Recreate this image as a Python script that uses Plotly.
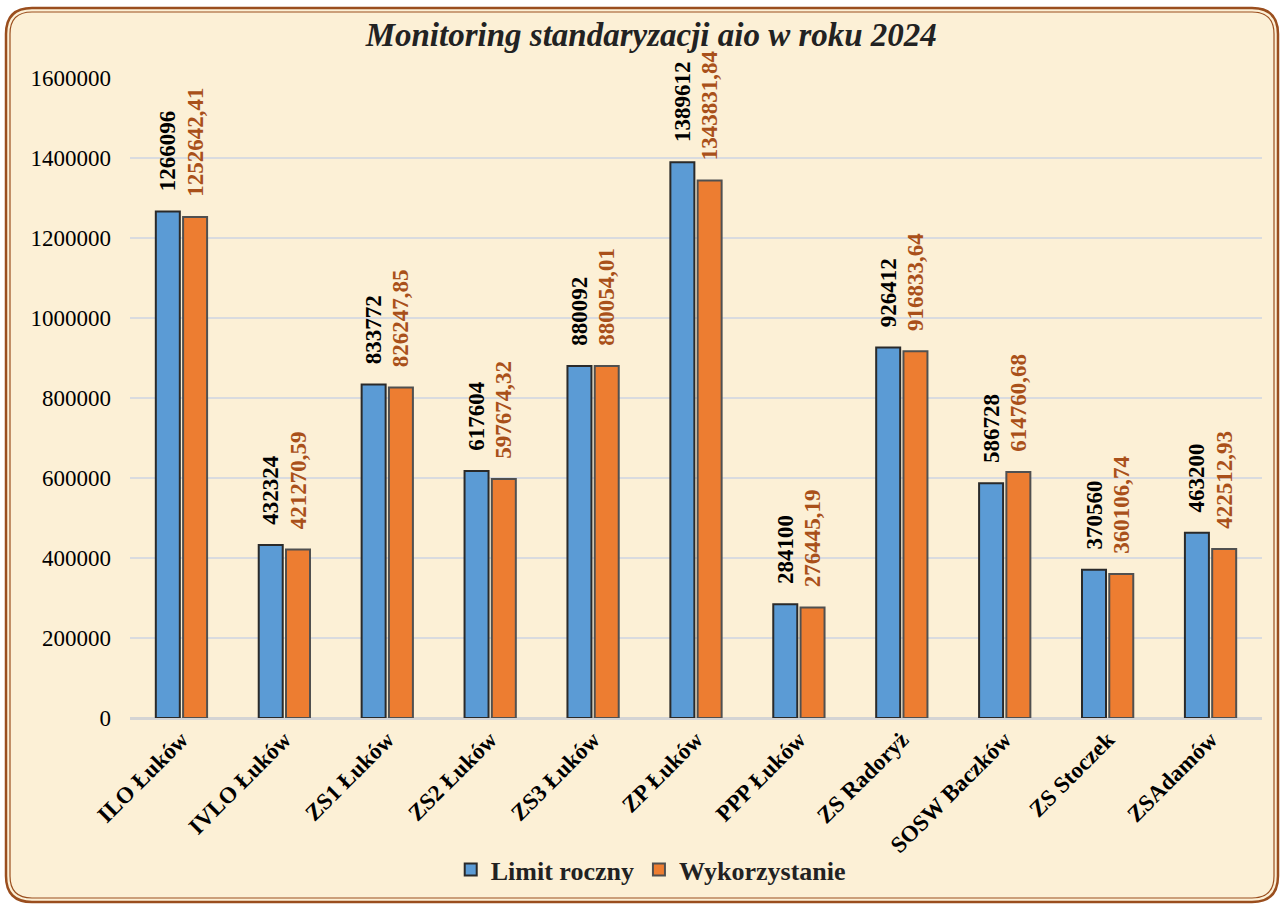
import plotly.graph_objects as go

CATEGORIES = ["ILO Łuków", "IVLO Łuków", "ZS1 Łuków", "ZS2 Łuków", "ZS3 Łuków", "ZP Łuków",
              "PPP Łuków", "ZS Radoryż", "SOSW Baczków", "ZS Stoczek", "ZSAdamów"]
LIMIT = [1266096, 432324, 833772, 617604, 880092, 1389612, 284100, 926412, 586728, 370560, 463200]
USED = [1252642.41, 421270.59, 826247.85, 597674.32, 880054.01, 1343831.84,
        276445.19, 916833.64, 614760.68, 360106.74, 422512.93]
Y_TICKS = [0, 200000, 400000, 600000, 800000, 1000000, 1200000, 1400000, 1600000]

FONT = "Liberation Serif, Times New Roman, serif"
W, H = 1282, 905
ML, MR, MT, MB = 130, 20, 78, 187
PAD = "\u00a0\u00a0\u00a0"


def fmt_pl(v):
    return f"{v:.2f}".replace(".", ",")


def rounded_rect(x0, y0, x1, y1, r):
    # pixel box -> path in paper coords (plot area domain)
    pw, ph = W - ML - MR, H - MT - MB

    def p(x, y):
        return f"{(x - ML) / pw:.5f},{(H - MB - y) / ph:.5f}"

    return (f"M{p(x0 + r, y0)} L{p(x1 - r, y0)} Q{p(x1, y0)} {p(x1, y0 + r)} "
            f"L{p(x1, y1 - r)} Q{p(x1, y1)} {p(x1 - r, y1)} L{p(x0 + r, y1)} "
            f"Q{p(x0, y1)} {p(x0, y1 - r)} L{p(x0, y0 + r)} Q{p(x0, y0)} {p(x0 + r, y0)} Z")


fig = go.Figure()
fig.add_trace(go.Bar(
    name="Limit roczny", x=CATEGORIES, y=LIMIT,
    marker=dict(color="#5B9BD5", line=dict(color="#2a2a2a", width=2)),
    text=[PAD + str(v) for v in LIMIT], textposition="outside", textangle=-90,
    textfont=dict(family=FONT, size=23, color="#000000", weight="bold"),
    constraintext="none", cliponaxis=False,
))
fig.add_trace(go.Bar(
    name="Wykorzystanie", x=CATEGORIES, y=USED,
    marker=dict(color="#ED7D31", line=dict(color="#505050", width=2)),
    text=[PAD + fmt_pl(v) for v in USED], textposition="outside", textangle=-90,
    textfont=dict(family=FONT, size=23, color="#A9501A", weight="bold"),
    constraintext="none", cliponaxis=False,
))

fig.add_shape(type="path", xref="paper", yref="paper", layer="below",
              path=rounded_rect(6, 8, 1278, 902, 26),
              fillcolor="#FCF0D6", line=dict(color="#9A4E1E", width=2.5))
fig.add_shape(type="path", xref="paper", yref="paper", layer="below",
              path=rounded_rect(10, 12, 1274, 898, 22),
              fillcolor="rgba(0,0,0,0)", line=dict(color="#9A4E1E", width=1.2))

fig.update_layout(
    width=W, height=H,
    margin=dict(l=ML, r=MR, t=MT, b=MB, autoexpand=False),
    paper_bgcolor="#FFFFFF", plot_bgcolor="rgba(0,0,0,0)",
    font=dict(family=FONT, color="#000000"),
    title=dict(text="Monitoring standaryzacji aio w roku 2024", x=0.508, xanchor="center",
               y=0.962, yanchor="middle",
               font=dict(family=FONT, size=33, color="#222222", weight="bold", style="italic")),
    barmode="group", bargap=0.47, bargroupgap=0.12,
    showlegend=True,
    legend=dict(orientation="h", x=0.46, xanchor="center", y=-0.237, yanchor="middle",
                font=dict(family=FONT, size=26, color="#222222", weight="bold"),
                bgcolor="rgba(0,0,0,0)", itemwidth=30),
    xaxis=dict(tickangle=-45, tickfont=dict(family=FONT, size=23, color="#000000", weight="bold"),
               showgrid=False, showline=True, linecolor="#D4D4D4", linewidth=2,
               ticks="", ticklabelstandoff=-3, automargin=False),
    yaxis=dict(range=[0, 1600000], tickvals=Y_TICKS, tickformat="d",
               tickfont=dict(family=FONT, size=23, color="#000000"),
               showgrid=True, gridcolor="#D9DBDF", gridwidth=2,
               zeroline=True, zerolinecolor="#D4D4D4", zerolinewidth=2,
               ticks="", ticklabelstandoff=18, automargin=False),
)

fig.write_html("out.html", config={"displayModeBar": False},
               post_script="document.body.style.margin='0';")
